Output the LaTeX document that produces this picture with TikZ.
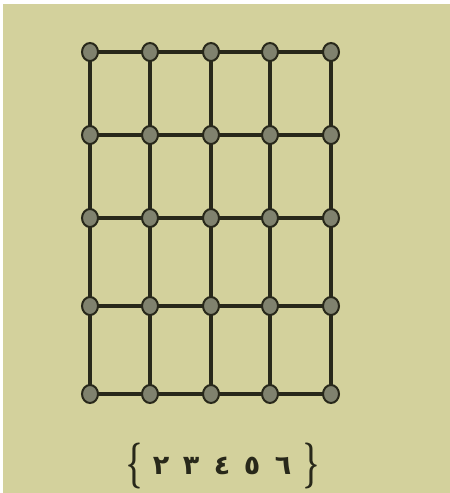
\documentclass[tikz,border=0pt]{standalone}
\usepackage{fontspec}
\usepackage{graphicx}
\newfontfamily\arabicfont[Script=Arabic]{DejaVu Sans}
\definecolor{paper}{RGB}{211,209,156}
\definecolor{ink}{RGB}{40,40,26}
\definecolor{dotfill}{RGB}{128,130,110}
\usetikzlibrary{shapes.geometric}
\tikzset{
  gdot/.style={ellipse, draw=ink, line width=2pt, fill=dotfill, minimum width=16pt, minimum height=18pt, inner sep=0pt},
  gline/.style={draw=ink, line width=3.2pt},
  digit/.style={font=\arabicfont\bfseries\fontsize{27}{27}\selectfont, text=ink, inner sep=0pt},
  brace/.style={font=\bfseries\fontsize{46}{46}\selectfont, text=ink, inner sep=0pt}
}
\begin{document}
\begin{tikzpicture}[x=1pt,y=-1pt]
\useasboundingbox (0,0) rectangle (450,493);
\fill[white] (0,0) rectangle (450,493);
\fill[paper] (3,4) rectangle (450,493);
\def\xs{{90,150,211,270,331}}
\def\ys{{52,135,218,306,394}}
\foreach \i in {0,...,4}{
  \foreach \j in {0,...,4}{
    \pgfmathsetmacro{\xx}{\xs[\j]}
    \pgfmathsetmacro{\yy}{\ys[\i]}
    \coordinate (c-\i-\j) at (\xx,\yy);
  }
}
% connectors
\foreach \i in {0,...,4}{
  \foreach \j [count=\k from 1] in {0,...,3}{
    \draw[gline] (c-\i-\j) -- (c-\i-\k);
  }
}
\foreach \j in {0,...,4}{
  \foreach \i [count=\k from 1] in {0,...,3}{
    \draw[gline] (c-\i-\j) -- (c-\k-\j);
  }
}
\foreach \i in {0,...,4}{
  \foreach \j in {0,...,4}{
    \node[gdot] (d-\i-\j) at (c-\i-\j) {};
  }
}
% label
\node[brace] (lb) at (134,466) {\scalebox{0.6}[1]{\{}};
\node[digit] (n2) at (161,466) {٢};
\node[digit] (n3) at (191,466) {٣};
\node[digit] (n4) at (222,466) {٤};
\node[digit] (n5) at (252,466) {٥};
\node[digit] (n6) at (283,466) {٦};
\node[brace] (rb) at (311,466) {\scalebox{0.6}[1]{\}}};
\end{tikzpicture}
\end{document}
